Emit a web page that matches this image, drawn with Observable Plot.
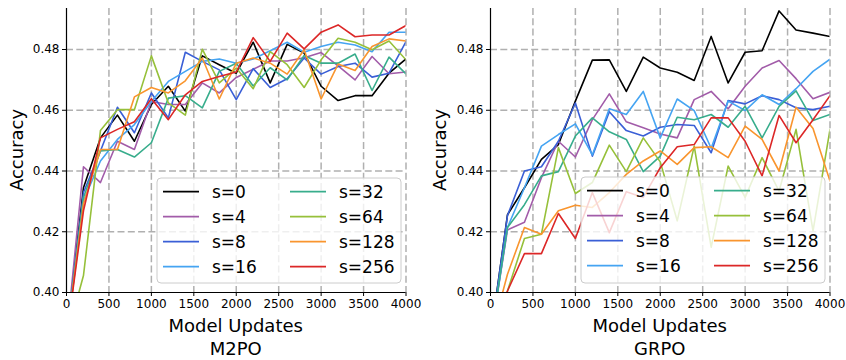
<!DOCTYPE html>
<html>
<head>
<meta charset="utf-8">
<script src="https://cdn.jsdelivr.net/npm/d3@7"></script>
<script src="https://cdn.jsdelivr.net/npm/@observablehq/plot@0.6"></script>
<style>
  html, body { margin: 0; padding: 0; background: #fff; }
  #wrap { position: relative; width: 846px; height: 360px; font-family: "DejaVu Sans", sans-serif; }
  #wrap > svg, #wrap > div { position: absolute; }
</style>
</head>
<body>
<div id="wrap"></div>
<script>
// ---- data ----
const steps = [0, 200, 400, 600, 800, 1000, 1200, 1400, 1600, 1800, 2000, 2200, 2400, 2600, 2800, 3000, 3200, 3400, 3600, 3800, 4000];
const seriesLabels = ["s=0", "s=4", "s=8", "s=16", "s=32", "s=64", "s=128", "s=256"];
const seriesColors = ["#000000", "#a25ca9", "#3a5fd6", "#45a4f2", "#38ad8c", "#96c03a", "#f9952e", "#dc2727"];
const xTicks = [0, 500, 1000, 1500, 2000, 2500, 3000, 3500, 4000];
const yTicks = [0.40, 0.42, 0.44, 0.46, 0.48];

const m2po_s0   = [0.385, 0.4345, 0.4509, 0.4584, 0.4498, 0.4619, 0.4679, 0.4597, 0.4779, 0.4750, 0.4722, 0.4824, 0.4690, 0.4817, 0.4788, 0.4679, 0.4632, 0.4648, 0.4648, 0.4722, 0.4769];
const m2po_s4   = [0.385, 0.4414, 0.4362, 0.4498, 0.4471, 0.4629, 0.4619, 0.4619, 0.4690, 0.4657, 0.4708, 0.4735, 0.4762, 0.4762, 0.4773, 0.4790, 0.4746, 0.4700, 0.4777, 0.4720, 0.4726];
const m2po_s8   = [0.385, 0.4329, 0.4466, 0.4610, 0.4526, 0.4657, 0.4575, 0.4791, 0.4761, 0.4733, 0.4635, 0.4737, 0.4675, 0.4704, 0.4772, 0.4719, 0.4744, 0.4755, 0.4709, 0.4722, 0.4826];
const m2po_s16  = [0.385, 0.4302, 0.4433, 0.4504, 0.4553, 0.4629, 0.4695, 0.4728, 0.4761, 0.4769, 0.4755, 0.4769, 0.4796, 0.4824, 0.4791, 0.4810, 0.4824, 0.4815, 0.4793, 0.4857, 0.4857];
const m2po_s32  = [0.385, 0.4313, 0.4466, 0.4471, 0.4446, 0.4493, 0.4640, 0.4648, 0.4608, 0.4728, 0.4755, 0.4680, 0.4740, 0.4700, 0.4780, 0.4755, 0.4755, 0.4785, 0.4665, 0.4775, 0.4720];
const m2po_s64  = [0.385, 0.4056, 0.4533, 0.4602, 0.4602, 0.4779, 0.4624, 0.4584, 0.4801, 0.4690, 0.4739, 0.4671, 0.4793, 0.4750, 0.4675, 0.4766, 0.4837, 0.4824, 0.4799, 0.4828, 0.4766];
const m2po_s128 = [0.385, 0.4291, 0.4471, 0.4471, 0.4644, 0.4675, 0.4657, 0.4697, 0.4772, 0.4637, 0.4755, 0.4772, 0.4755, 0.4719, 0.4799, 0.4637, 0.4752, 0.4731, 0.4810, 0.4835, 0.4828];
const m2po_s256 = [0.385, 0.4269, 0.4509, 0.4537, 0.4562, 0.4638, 0.4569, 0.4651, 0.4695, 0.4711, 0.4726, 0.4839, 0.4761, 0.4854, 0.4802, 0.4857, 0.4881, 0.4842, 0.4848, 0.4848, 0.4879];

const grpo_s0   = [0.385, 0.4256, 0.4345, 0.4438, 0.4487, 0.4630, 0.4765, 0.4766, 0.4662, 0.4775, 0.4739, 0.4725, 0.4698, 0.4843, 0.4690, 0.4791, 0.4796, 0.4927, 0.4864, 0.4854, 0.4843];
const grpo_s4   = [0.385, 0.4206, 0.4231, 0.4378, 0.4498, 0.4446, 0.4569, 0.4654, 0.4562, 0.4542, 0.4522, 0.4509, 0.4635, 0.4662, 0.4605, 0.4679, 0.4739, 0.4764, 0.4704, 0.4638, 0.4659];
const grpo_s8   = [0.385, 0.4253, 0.4400, 0.4414, 0.4498, 0.4624, 0.4449, 0.4595, 0.4533, 0.4515, 0.4544, 0.4553, 0.4550, 0.4460, 0.4632, 0.4621, 0.4648, 0.4635, 0.4608, 0.4602, 0.4613];
const grpo_s16  = [0.385, 0.4214, 0.4345, 0.4482, 0.4520, 0.4555, 0.4453, 0.4605, 0.4586, 0.4662, 0.4509, 0.4637, 0.4599, 0.4475, 0.4630, 0.4599, 0.4651, 0.4619, 0.4671, 0.4728, 0.4768];
const grpo_s32  = [0.385, 0.4214, 0.4289, 0.4384, 0.4398, 0.4515, 0.4575, 0.4529, 0.4504, 0.4398, 0.4449, 0.4577, 0.4569, 0.4586, 0.4544, 0.4613, 0.4509, 0.4613, 0.4664, 0.4566, 0.4586];
const grpo_s64  = [0.385, 0.4005, 0.4178, 0.4192, 0.4477, 0.4326, 0.4362, 0.4485, 0.4398, 0.4509, 0.4430, 0.4236, 0.4482, 0.4149, 0.4416, 0.4313, 0.4444, 0.4334, 0.4537, 0.4203, 0.4537];
const grpo_s128 = [0.385, 0.4060, 0.4214, 0.4192, 0.4269, 0.4287, 0.4280, 0.4329, 0.4389, 0.4433, 0.4466, 0.4422, 0.4477, 0.4480, 0.4444, 0.4548, 0.4504, 0.4400, 0.4610, 0.4540, 0.4367];
const grpo_s256 = [0.385, 0.4005, 0.4128, 0.4128, 0.4260, 0.4178, 0.4329, 0.4197, 0.4332, 0.4313, 0.4411, 0.4480, 0.4487, 0.4575, 0.4575, 0.4498, 0.4384, 0.4583, 0.4493, 0.4569, 0.4648];

const m2poSeries = [m2po_s0, m2po_s4, m2po_s8, m2po_s16, m2po_s32, m2po_s64, m2po_s128, m2po_s256];
const grpoSeries = [grpo_s0, grpo_s4, grpo_s8, grpo_s16, grpo_s32, grpo_s64, grpo_s128, grpo_s256];

const FONT = "DejaVu Sans, sans-serif";
const wrap = document.getElementById("wrap");

function panel(series, title, offsetX, ml, mr, legendBox) {
  const rows = [];
  series.forEach((vals, i) => vals.forEach((v, j) => rows.push({step: steps[j], acc: v, s: seriesLabels[i]})));
  const W = 423, H = 360;
  const grid = {stroke: "#b0b0b0", strokeOpacity: 1, strokeWidth: 1.5, strokeDasharray: "7,3.3"};
  const plot = Plot.plot({
    width: W, height: H,
    marginLeft: ml, marginRight: mr, marginTop: 8, marginBottom: 68,
    style: {fontFamily: FONT, fontSize: "12px", color: "#000", background: "transparent", overflow: "visible"},
    x: {domain: [0, 4000]},
    y: {domain: [0.40, 0.4935]},
    color: {domain: seriesLabels, range: seriesColors},
    marks: [
      Plot.gridX(xTicks.slice(1), grid),
      Plot.gridY(yTicks.slice(1), grid),
      Plot.lineY(rows, {x: "step", y: "acc", z: "s", stroke: "s", strokeWidth: 1.6, clip: true}),
      Plot.ruleX([0], {stroke: "#000", strokeWidth: 1.2}),
      Plot.ruleY([0.40], {stroke: "#000", strokeWidth: 1.2}),
      Plot.axisX(xTicks, {tickSize: 4, tickPadding: 3, tickFormat: d => String(d), label: null, fontSize: 12, stroke: "#000"}),
      Plot.axisY(yTicks, {tickSize: 4, tickPadding: 3, tickFormat: d3.format(".2f"), label: null, fontSize: 12, stroke: "#000"})
    ]
  });
  plot.style.left = offsetX + "px";
  plot.style.top = "0px";
  const svg = d3.select(plot);
  const xs = plot.scale("x"), ys = plot.scale("y");
  const cx = (xs.apply(0) + xs.apply(4000)) / 2;
  const cy = (ys.apply(0.40) + ys.apply(0.4935)) / 2;
  svg.append("text").attr("x", cx).attr("y", 325).attr("text-anchor", "middle").attr("dominant-baseline", "central")
    .attr("font-family", FONT).attr("font-size", 18).attr("fill", "#000").text("Model Updates");
  svg.append("text").attr("x", cx).attr("y", 348).attr("text-anchor", "middle").attr("dominant-baseline", "central")
    .attr("font-family", FONT).attr("font-size", 18).attr("fill", "#000").text(title);
  svg.append("text").attr("transform", `translate(16,${cy}) rotate(-90)`).attr("text-anchor", "middle").attr("dominant-baseline", "central")
    .attr("font-family", FONT).attr("font-size", 18).attr("fill", "#000").text("Accuracy");
  wrap.appendChild(plot);

  // legend
  const lg = d3.create("svg").attr("width", legendBox.w + 2).attr("height", legendBox.h + 2)
    .style("left", (legendBox.x - 1) + "px").style("top", (legendBox.y - 1) + "px").style("position", "absolute");
  lg.append("rect").attr("x", 1).attr("y", 1).attr("width", legendBox.w).attr("height", legendBox.h).attr("rx", 4)
    .attr("fill", "#fff").attr("fill-opacity", 0.8).attr("stroke", "#cccccc").attr("stroke-width", 1);
  seriesLabels.forEach((lab, i) => {
    const col = Math.floor(i / 4), row = i % 4;
    const x0 = 1 + (col === 0 ? 6 : 133);
    const yy = 1 + 13.7 + row * 25;
    lg.append("line").attr("x1", x0).attr("x2", x0 + 36).attr("y1", yy).attr("y2", yy)
      .attr("stroke", seriesColors[i]).attr("stroke-width", 1.8);
    lg.append("text").attr("x", x0 + 49).attr("y", yy).attr("dominant-baseline", "central")
      .attr("font-family", FONT).attr("font-size", 17).attr("fill", "#000").text(lab);
  });
  wrap.appendChild(lg.node());
}

panel(m2poSeries, "M2PO", 0, 66, 17.5, {x: 157, y: 178, w: 244, h: 105});
panel(grpoSeries, "GRPO", 423, 67, 16.5, {x: 581, y: 177, w: 244, h: 106});
</script>
</body>
</html>
